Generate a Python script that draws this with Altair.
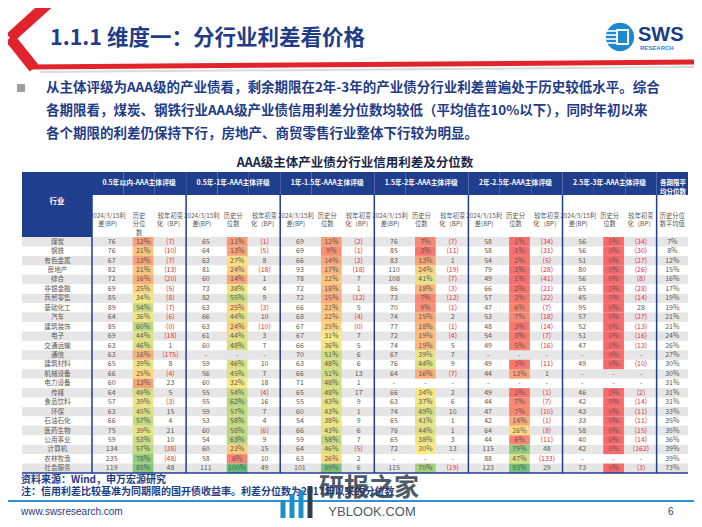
import altair as alt
import pandas as pd

# ---------------- data ----------------
industries = ["煤炭", "钢铁", "有色金属", "房地产", "综合", "非银金融", "商贸零售", "基础化工", "汽车",
              "建筑装饰", "电子", "交通运输", "通信", "建筑材料", "机械设备", "电力设备", "传媒", "食品饮料",
              "环保", "石油石化", "医药生物", "公用事业", "计算机", "农林牧渔", "社会服务"]

group_labels = ["0.5年以内-AAA主体评级", "0.5年-1年-AAA主体评级", "1年-1.5年-AAA主体评级",
                "1.5年-2年-AAA主体评级", "2年-2.5年-AAA主体评级", "2.5年-3年-AAA主体评级"]

# 0.5年以内
spread_g1 = [76, 76, 67, 82, 72, 69, 85, 89, 64, 85, 69, 63, 63, 65, 66, 60, 64, 57, 63, 66, 75, 59, 134, 235, 119]
pct_g1 = [12, 21, 13, 21, 16, 25, 34, 54, 36, 60, 44, 46, 16, 39, 25, 13, 49, 39, 45, 57, 39, 53, 57, 78, 85]
chg_g1 = [-7, -10, -7, -13, -20, -5, -8, -7, -6, -0.3, -18, 1, -175, 8, -4, 23, 5, -3, 15, 4, 21, 10, -38, -48, 48]
# 0.5年-1年
spread_g2 = [65, 64, 63, 81, 60, 73, 82, 63, 66, 63, 61, 60, None, 59, 56, 60, 55, 55, 59, 53, 60, 54, 60, 58, 111]
pct_g2 = [11, 13, 27, 24, 14, 38, 55, 25, 44, 24, 44, 48, None, 46, 45, 32, 54, 62, 57, 58, 58, 63, 23, 6, 100]
chg_g2 = [-1, -5, 8, -18, 1, 4, 9, -3, 10, -10, 3, 7, None, 10, 7, 18, -4, 16, 7, 4, -6, 9, 15, 10, 49]
# 1年-1.5年
spread_g3 = [69, 69, 66, 93, 78, 72, 72, 66, 68, 67, 67, 66, 70, 63, 66, 71, 65, 55, 60, 54, 66, 59, 64, 63, 101]
pct_g3 = [12, 9, 14, 17, 22, 18, 15, 21, 22, 25, 31, 36, 51, 48, 51, 48, 48, 43, 43, 38, 43, 58, 46, 26, 89]
chg_g3 = [-2, -1, -2, -18, 7, 1, -12, 5, -4, -0.3, 7, 5, 6, 6, 13, 1, 17, 9, 1, 9, 6, 7, -5, 2, 6]
# 1.5年-2年
spread_g4 = [76, 85, 83, 110, 108, 86, 73, 70, 74, 77, 72, 74, 67, 76, 64, None, 66, 63, 74, 65, 76, 65, 72, None, 115]
pct_g4 = [7, 3, 13, 24, 41, 18, 7, 9, 15, 18, 19, 19, 39, 44, 16, None, 34, 37, 49, 41, 44, 38, 30, None, 70]
chg_g4 = [-7, -11, 1, -19, -7, -3, -12, -1, 2, -1, -4, 5, 7, 9, -7, None, 2, 6, 10, 1, 1, 3, 13, None, -19]
# 2年-2.5年
spread_g5 = [58, 58, 54, 79, 49, 66, 57, 47, 53, 48, 54, 49, None, 49, 44, None, 49, 44, 47, 42, 64, 44, 115, 88, 123]
pct_g5 = [1, 1, 2, 1, 1, 2, 3, 6, 7, 3, 3, 5, None, 3, 13, None, 2, 7, 7, 14, 26, 6, 79, 47, 93]
chg_g5 = [-34, -31, -5, -28, -41, -21, -22, -7, -18, -14, -7, -16, None, -11, 1, None, -1, -7, -10, -1, -8, -11, 48, -133, 29]
# 2.5年-3年
spread_g6 = [56, 56, 51, 80, 56, 65, 45, 95, 57, 52, 51, 47, None, 49, None, None, 46, 42, 43, 33, 58, 40, 42, None, 73]
pct_g6 = [0, 0, 0, 0, 0, 0, 0, 0, 0, 0, 0, 0, 0, 0, None, None, 0, 0, 0, 0, 0, 0, 0, None, 0]
chg_g6 = [-34, -30, -27, -26, -8, -28, -14, 28, -27, -13, -16, -13, None, -10, None, None, -2, -14, -11, -11, -15, -14, -162, None, -3]
# 各期限平均分位数
avg_pct = [7, 8, 12, 15, 16, 17, 19, 19, 21, 21, 24, 26, 27, 30, 30, 31, 31, 31, 33, 35, 35, 36, 39, 39, 73]

sub_first = ["2024/3/15利\n差(BP)", "历史\n分位\n数", "较年初变\n化（BP）"]
sub_other = ["2024/3/15利\n差(BP)", "历史分\n位数", "较年初变\n化（BP）"]
sub_avg = "历史分位\n数平均值"

# ---------------- build tables ----------------
spreads = [spread_g1, spread_g2, spread_g3, spread_g4, spread_g5, spread_g6]
pcts = [pct_g1, pct_g2, pct_g3, pct_g4, pct_g5, pct_g6]
chgs = [chg_g1, chg_g2, chg_g3, chg_g4, chg_g5, chg_g6]
KEYS = [f"g{g}_{k}" for g in range(6) for k in "vpc"] + ["avg"]
NAME_KEYS = ["n1", "n2"]   # the 行业 column occupies two column slots


def fmt_num(v):
    return "-" if v is None else f"{v:.0f}"


def fmt_chg(v):
    if v is None:
        return "-"
    return f"({abs(v):.0f})" if v < 0 else f"{v:.0f}"


rows = []
for g in range(6):
    for i, ind in enumerate(industries):
        sp, pc, ch = spreads[g][i], pcts[g][i], chgs[g][i]
        rows.append(dict(ind=ind, key=f"g{g}_v", kind="v", text=fmt_num(sp), neg=False, pct=None))
        rows.append(dict(ind=ind, key=f"g{g}_p", kind="p", text="-" if pc is None else f"{pc}%",
                         neg=False, pct=None if pc is None else pc / 100))
        rows.append(dict(ind=ind, key=f"g{g}_c", kind="c", text=fmt_chg(ch),
                         neg=(ch is not None and ch < 0), pct=None))
for i, ind in enumerate(industries):
    rows.append(dict(ind=ind, key="avg", kind="a", text=f"{avg_pct[i]}%", neg=False, pct=None))
body = pd.DataFrame(rows)

stripe_df = pd.DataFrame({"ind": industries, "i": list(range(len(industries)))})
name_df = pd.DataFrame({"ind": industries, "name": industries, "key": "n1"})
grp_df = pd.DataFrame({"key": [f"g{g}_p" for g in range(6)], "label": group_labels})
sub_labels = []
for g in range(6):
    src = sub_first if g == 0 else sub_other
    for k, lab in zip("vpc", src):
        sub_labels.append(dict(key=f"g{g}_{k}", label=lab))
sub_labels.append(dict(key="avg", label=sub_avg))
sub_df = pd.DataFrame(sub_labels)
key_df = pd.DataFrame({"key": KEYS})
sep_df = pd.DataFrame({"key": [f"g{g}_v" for g in range(6)] + ["avg"]})

# ---------------- layout / style ----------------
OFF = 8
W, H = 686, 511
FONT = "Noto Sans CJK SC"
NAVY = "#1F3C88"
HEAD = "#203E8E"
GRAY_TXT = "#595959"
RED_TXT = "#EE2B35"
STRIPE = "#E6E6E6"
BODY_FS = 7
BAND = (688 - 92) / len(KEYS)


def P(v):
    return v - OFF


xs = alt.Scale(type="band", domain=NAME_KEYS + KEYS, range=[P(92 - 2 * BAND), P(688)],
               paddingInner=0, paddingOuter=0)
ys = alt.Scale(type="band", domain=industries, range=[P(237), P(473)], paddingInner=0, paddingOuter=0)
X = alt.X("key:N", scale=xs, axis=None)
Y = alt.Y("ind:N", scale=ys, axis=None)
ONE = alt.Data(values=[{"t": ""}])


def dtext(text, x, y, size, color, weight="normal", align="left", font=FONT, opacity=1.0, **kw):
    return alt.Chart(alt.Data(values=[{"t": text}])).mark_text(
        align=align, baseline="middle", fontSize=size, font=font, fontWeight=weight,
        color=color, opacity=opacity, **kw).encode(x=alt.value(P(x)), y=alt.value(P(y)), text="t:N")


def drule(x, y, x2, y2, color, width, cap="butt"):
    return alt.Chart(ONE).mark_rule(color=color, strokeWidth=width, strokeCap=cap).encode(
        x=alt.value(P(x)), y=alt.value(P(y)), x2=alt.value(P(x2)), y2=alt.value(P(y2)))


def drect(x, y, x2, y2, color):
    return alt.Chart(ONE).mark_rect(color=color).encode(
        x=alt.value(P(x)), y=alt.value(P(y)), x2=alt.value(P(x2)), y2=alt.value(P(y2)))


layers = []

# slide header decoration
layers += [
    drule(52, 0, 10, 38, "#E1242B", 11),
    drule(10, 38, 34, 68, "#E1242B", 11),
    drule(28, 67, 702, 62, "#E1242B", 5),
    drule(40, 72, 702, 67, "#DADADA", 2),
    dtext("1.1.1 维度一：分行业利差看价格", 50, 39, 21.5, NAVY, weight="bold"),
]
# logo
layers += [
    alt.Chart(ONE).mark_point(filled=True, shape="circle", size=800, color="#1E88D2", opacity=1).encode(
        x=alt.value(P(620)), y=alt.value(P(37))),
    drule(607, 31, 616, 31, "white", 1.6),
    drule(605, 35, 616, 35, "white", 1.6),
    drule(605, 39, 616, 39, "white", 1.6),
    drule(607, 43, 616, 43, "white", 1.6),
    alt.Chart(ONE).mark_rect(stroke="white", strokeWidth=2, fill="#1E88D2").encode(
        x=alt.value(P(617)), x2=alt.value(P(628)), y=alt.value(P(30)), y2=alt.value(P(44))),
    dtext("SWS", 638, 35, 20, "#1B3A8C", weight="bold", font="Liberation Sans"),
    dtext("RESEARCH", 640, 48, 6, "#1E88D2", weight="bold", font="Liberation Sans"),
]
# bullet text
layers += [
    drect(17, 84, 25, 92, "#A0A0A0"),
    dtext("从主体评级为AAA级的产业债看，剩余期限在2年-3年的产业债分行业利差普遍处于历史较低水平。综合",
          46, 88, 13.5, NAVY, weight="bold"),
    dtext("各期限看，煤炭、钢铁行业AAA级产业债信用利差分位数均较低（平均值在10%以下），同时年初以来",
          46, 111, 13.5, NAVY, weight="bold"),
    dtext("各个期限的利差仍保持下行，房地产、商贸零售行业整体下行较为明显。", 46, 134, 13.5, NAVY, weight="bold"),
    dtext("AAA级主体产业债分行业信用利差及分位数", 355, 163, 12.5, "#1D2647", weight="bold", align="center"),
]

# table: stripes
layers.append(
    alt.Chart(stripe_df).transform_filter("datum.i % 2 == 0").mark_rect(color=STRIPE).encode(
        y=Y, x=alt.value(P(22)), x2=alt.value(P(688)))
)
# header blue
layers.append(
    alt.Chart(key_df).mark_rect(color=HEAD).encode(x=X, y=alt.value(P(172)), y2=alt.value(P(195)))
)
layers.append(drect(22, 172, 92, 237, HEAD))

# heat cells
layers.append(
    alt.Chart(body).transform_filter("datum.kind == 'p' && isValid(datum.pct)").mark_rect(
        width=alt.RelativeBandSize(0.66), xOffset=4).encode(
        x=X, y=Y,
        color=alt.Color("pct:Q", legend=None,
                        scale=alt.Scale(domain=[0, 0.3, 1], range=["#F8696B", "#FFEB84", "#63BE7B"],
                                        interpolate="rgb")))
)

# body text
txt_color = alt.condition("datum.neg", alt.value(RED_TXT), alt.value(GRAY_TXT))
for kinds, dx in [("v", 4), ("p", 4), ("c", 0), ("a", 0)]:
    layers.append(
        alt.Chart(body).transform_filter(f"datum.kind == '{kinds}'").mark_text(
            fontSize=BODY_FS, font=FONT, dx=dx).encode(x=X, y=Y, text="text:N", color=txt_color)
    )
# industry names: centred on the 行业 column (boundary between its two slots, shifted slightly left)
layers.append(
    alt.Chart(name_df).mark_text(fontSize=6.6, font=FONT, color=GRAY_TXT).encode(
        y=Y, x=alt.X("key:N", scale=xs, axis=None, bandPosition=0.9), text="name:N")
)
# header texts
layers += [
    alt.Chart(grp_df).mark_text(fontSize=6.8, font=FONT, fontWeight="bold", color="white").encode(
        x=X, y=alt.value(P(183)), text="label:N"),
    dtext("各期限平\n均分位数", 673, 183, 6.5, "white", weight="bold", align="center",
          lineBreak="\n", lineHeight=9),
    dtext("行业", 57, 202, 7.5, "white", weight="bold", align="center"),
    alt.Chart(sub_df).mark_text(fontSize=6.3, font=FONT, color=GRAY_TXT, lineBreak="\n", lineHeight=8.3).encode(
        x=X, y=alt.value(P(216)), text="label:N"),
]
# separators
layers += [
    alt.Chart(sep_df).mark_rule(color=HEAD, strokeWidth=1.5).encode(
        x=alt.X("key:N", scale=xs, axis=None, bandPosition=0), y=alt.value(P(195)), y2=alt.value(P(473))),
    drule(22, 473, 688, 473, HEAD, 1.5),
]

# footnotes & footer
layers += [
    dtext("资料来源：Wind，申万宏源研究", 21, 480, 10, NAVY, weight="bold"),
    dtext("注：信用利差比较基准为同期限的国开债收益率。利差分位数为2017年以来的分位数", 21, 492, 10, NAVY, weight="bold"),
    drule(8, 501, 702, 501, "#2E90D8", 2),
    dtext("www.swsresearch.com", 21, 512, 10, "#1F3C88", font="Liberation Sans"),
    dtext("6", 668, 512, 10, "#1F3C88", font="Liberation Sans"),
    drule(283, 518, 283, 500, "#1A8FC8", 5),
    drule(292, 518, 292, 494, "#1A8FC8", 5),
    drule(301, 518, 301, 490, "#1A8FC8", 5),
    drule(310, 518, 310, 486, "#2F3E4E", 5),
    dtext("研报之家", 369, 488, 25, "#2F3E4E", weight="bold", align="center", opacity=0.85),
    dtext("YBLOOK.COM", 372, 512, 13, "#2F3E4E", align="center", font="Liberation Sans", opacity=0.85),
]

chart = alt.layer(*layers).properties(
    width=W, height=H, autosize=alt.AutoSizeParams(type="none"), padding=0,
    background="white"
).configure_view(stroke=None)

chart.save("out.html", embed_options={"renderer": "svg", "actions": False})
